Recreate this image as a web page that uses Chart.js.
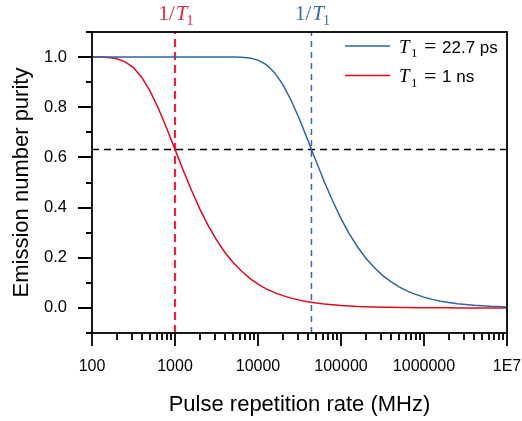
<!DOCTYPE html>
<html>
<head>
<meta charset="utf-8">
<title>Emission number purity</title>
<script src="https://cdn.jsdelivr.net/npm/chart.js@4.4.1/dist/chart.umd.min.js"></script>
<style>
  html, body { margin: 0; padding: 0; background: #fff; }
  #wrap { width: 522px; height: 421px; }
</style>
</head>
<body>
<div id="wrap"><canvas id="purityChart" width="522" height="421"></canvas></div>
<script>
// pulse repetition rate (MHz), ten steps per decade
const rates = [
  100, 126, 158, 200, 251, 316, 398, 501, 631, 794,
  1000, 1259, 1585, 1995, 2512, 3162, 3981, 5012, 6310, 7943,
  10000, 12589, 15849, 19953, 25119, 31623, 39811, 50119, 63096, 79433,
  100000, 125893, 158489, 199526, 251189, 316228, 398107, 501187, 630957, 794328,
  1000000, 1258925, 1584893, 1995262, 2511886, 3162278, 3981072, 5011872, 6309573, 7943282,
  10000000
];
// T1 = 22.7 ps
const purityShort = [
  1.000, 1.000, 1.000, 1.000, 1.000, 1.000, 1.000, 1.000, 1.000, 1.000,
  1.000, 1.000, 1.000, 1.000, 1.000, 1.000, 1.000, 1.000, 0.999, 0.996,
  0.988, 0.970, 0.938, 0.890, 0.827, 0.752, 0.669, 0.585, 0.502, 0.426,
  0.356, 0.295, 0.243, 0.198, 0.161, 0.130, 0.105, 0.084, 0.067, 0.054,
  0.043, 0.034, 0.027, 0.022, 0.017, 0.014, 0.011, 0.009, 0.007, 0.006,
  0.004
];
// T1 = 1 ns
const purityLong = [
  1.000, 1.000, 0.998, 0.993, 0.981, 0.958, 0.919, 0.864, 0.795, 0.716,
  0.632, 0.548, 0.468, 0.394, 0.328, 0.271, 0.222, 0.181, 0.147, 0.118,
  0.095, 0.076, 0.061, 0.049, 0.039, 0.031, 0.025, 0.020, 0.016, 0.013,
  0.010, 0.008, 0.006, 0.005, 0.004, 0.003, 0.003, 0.002, 0.002, 0.001,
  0.001, 0.001, 0.001, 0.001, 0.000, 0.000, 0.000, 0.000, 0.000, 0.000,
  0.000
];

const lifetimes = ['22.7 ps', '1 ns'];
const inverseT1 = [44053, 1000];   // 1/T1 in MHz
const threshold = 0.632;           // 1 - 1/e

const xTicks = [100, 1000, 10000, 100000, 1000000, 10000000];
const xTickLabels = ['100', '1000', '10000', '100000', '1000000', '1E7'];
const yTicks = [0.0, 0.2, 0.4, 0.6, 0.8, 1.0];
const yMinorTicks = [-0.1, 0.1, 0.3, 0.5, 0.7, 0.9, 1.1];

const BLUE = '#2d65a5';
const RED = '#e3081f';
const RED_DASH = '#e8253f';
const BLUE_DASH = '#3a6ba8';
const colors = [BLUE, RED];
const dashColors = [BLUE_DASH, RED_DASH];

const SANS = '"Liberation Sans", Arial, sans-serif';
const SERIF = '"Liberation Serif", "Times New Roman", serif';

function points(ys) {
  return rates.map((r, i) => ({ x: r, y: ys[i] }));
}

// writes "1/" + italic T + subscript 1, centred on cx
function drawT1(ctx, cx, base, color, size) {
  const sub = Math.round(size * 0.68);
  ctx.fillStyle = color;
  ctx.textBaseline = 'alphabetic';
  ctx.textAlign = 'left';
  ctx.font = size + 'px ' + SERIF;
  const w1 = ctx.measureText('1/').width;
  ctx.font = 'italic ' + size + 'px ' + SERIF;
  const w2 = ctx.measureText('T').width;
  ctx.font = sub + 'px ' + SERIF;
  const w3 = ctx.measureText('1').width;
  let x = cx - (w1 + w2 + w3) / 2 + 1;
  ctx.font = size + 'px ' + SERIF;
  ctx.fillText('1/', x, base);
  x += w1 + 1;
  ctx.font = 'italic ' + size + 'px ' + SERIF;
  ctx.fillText('T', x, base);
  x += w2 - 1;
  ctx.font = sub + 'px ' + SERIF;
  ctx.fillText('1', x, base + 5);
}

// box, tick marks, 1/T1 labels and legend
const decorations = {
  id: 'decorations',
  afterDraw(chart) {
    const ctx = chart.ctx;
    const area = chart.chartArea;
    const xs = chart.scales.x, ys = chart.scales.y;
    ctx.save();
    ctx.strokeStyle = '#000';
    ctx.lineWidth = 1.8;
    ctx.strokeRect(area.left, area.top, area.right - area.left, area.bottom - area.top);

    ctx.beginPath();
    yTicks.forEach(v => {
      const p = Math.round(ys.getPixelForValue(v));
      ctx.moveTo(area.left - 14, p); ctx.lineTo(area.left, p);
    });
    yMinorTicks.forEach(v => {
      const p = Math.round(ys.getPixelForValue(v));
      ctx.moveTo(area.left - 6, p); ctx.lineTo(area.left, p);
    });
    xTicks.forEach((d, i) => {
      const p = Math.round(xs.getPixelForValue(d));
      ctx.moveTo(p, area.bottom); ctx.lineTo(p, area.bottom + 13);
      if (i < xTicks.length - 1) {
        for (let k = 2; k <= 9; k++) {
          const q = Math.round(xs.getPixelForValue(d * k));
          ctx.moveTo(q, area.bottom); ctx.lineTo(q, area.bottom + 7);
        }
      }
    });
    ctx.stroke();

    inverseT1.forEach((f, i) => {
      drawT1(ctx, xs.getPixelForValue(f), 20, dashColors[i], 21);
    });

    // legend
    lifetimes.forEach((label, i) => {
      const ly = 46 + i * 29.5;
      const base = ly + 6.5;
      ctx.strokeStyle = colors[i];
      ctx.lineWidth = 1.5;
      ctx.beginPath();
      ctx.moveTo(345, ly); ctx.lineTo(390, ly);
      ctx.stroke();
      ctx.fillStyle = '#000';
      ctx.textBaseline = 'alphabetic';
      ctx.textAlign = 'left';
      ctx.font = 'italic 19px ' + SERIF;
      ctx.fillText('T', 399, base);
      ctx.font = '13px ' + SERIF;
      ctx.fillText('1', 411, base + 4.5);
      ctx.font = '22px ' + SERIF;
      ctx.fillText('=', 424, base + 0.5);
      ctx.font = '17px ' + SANS;
      ctx.fillText(label, 442, base);
    });
    ctx.restore();
  }
};

new Chart(document.getElementById('purityChart'), {
  type: 'line',
  data: {
    datasets: [
      { data: points(purityShort), borderColor: BLUE, borderWidth: 1.5 },
      { data: points(purityLong), borderColor: RED, borderWidth: 1.5 },
      {
        data: [{ x: inverseT1[0], y: -0.1 }, { x: inverseT1[0], y: 1.1 }],
        borderColor: BLUE_DASH, borderWidth: 1.5, borderDash: [6, 5]
      },
      {
        data: [{ x: inverseT1[1], y: -0.1 }, { x: inverseT1[1], y: 1.1 }],
        borderColor: RED_DASH, borderWidth: 2.2, borderDash: [8, 5]
      },
      {
        data: [{ x: 100, y: threshold }, { x: 10000000, y: threshold }],
        borderColor: '#000', borderWidth: 1.5, borderDash: [7, 5]
      }
    ]
  },
  options: {
    responsive: false,
    animation: false,
    devicePixelRatio: 1,
    parsing: false,
    elements: { point: { radius: 0 }, line: { tension: 0 } },
    layout: { padding: { top: 32, right: 15, bottom: 0, left: 0 } },
    plugins: { legend: { display: false }, tooltip: { enabled: false } },
    scales: {
      x: {
        type: 'logarithmic',
        min: 100,
        max: 10000000,
        grid: { display: false, drawTicks: false },
        border: { display: false },
        afterBuildTicks: s => { s.ticks = xTicks.map(v => ({ value: v })); },
        afterFit: s => { s.height = 88; s.paddingLeft = 0; s.paddingRight = 0; },
        ticks: {
          autoSkip: false,
          maxRotation: 0,
          padding: 24,
          color: '#000',
          font: { family: SANS, size: 16 },
          callback: (v, i) => xTickLabels[i]
        },
        title: {
          display: true,
          text: 'Pulse repetition rate (MHz)',
          color: '#000',
          font: { family: SANS, size: 22 },
          padding: { top: 0, bottom: 3 }
        }
      },
      y: {
        min: -0.1,
        max: 1.1,
        grid: { display: false, drawTicks: false },
        border: { display: false },
        afterBuildTicks: s => { s.ticks = yTicks.map(v => ({ value: v })); },
        afterFit: s => { s.width = 92; s.paddingTop = 0; s.paddingBottom = 0; },
        ticks: {
          padding: 25,
          color: '#000',
          font: { family: SANS, size: 16.5 },
          callback: v => v.toFixed(1)
        },
        title: {
          display: true,
          text: 'Emission number purity',
          color: '#000',
          font: { family: SANS, size: 22 },
          padding: { top: 9, bottom: 0 }
        }
      }
    }
  },
  plugins: [decorations]
});
</script>
</body>
</html>
